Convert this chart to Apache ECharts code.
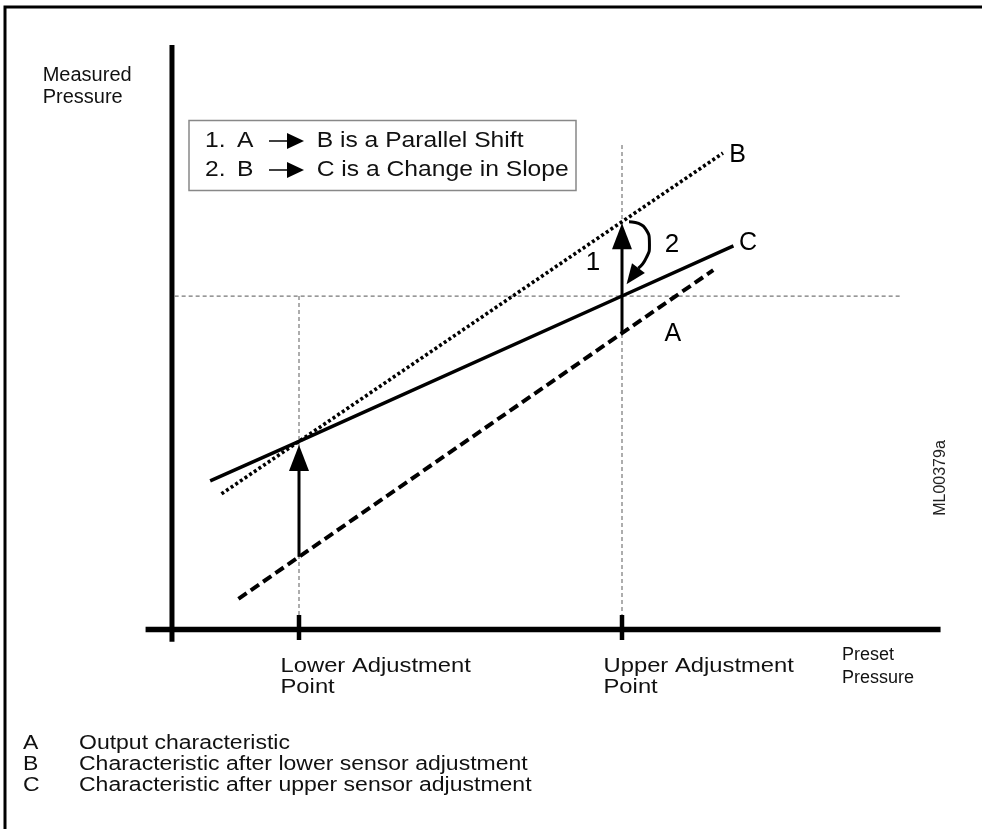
<!DOCTYPE html>
<html><head><meta charset="utf-8">
<script src="https://cdn.jsdelivr.net/npm/echarts@6/dist/echarts.min.js"></script>
<style>html,body{margin:0;padding:0;background:#fff}#c{width:982px;height:829px}</style>
</head><body><div id="c"></div>
<script>
const FONT = '"Liberation Sans", Arial, Helvetica, sans-serif';

// Preset pressure (x) positions of the two adjustment points
const adjustPoints = [20, 60];
const tickLabels = ['Lower Adjustment\nPoint', 'Upper Adjustment\nPoint'];
const xAxisTitle = 'Preset\nPressure';
const yAxisTitle = 'Measured\nPressure';

// Characteristic lines [preset, measured]
const lineA = [[12.5, 3.8], [20, 9.0], [60, 36.7], [71.3, 44.5]];
const lineB = [[10.4, 16.8], [20, 23.3], [60, 50.5], [72.5, 59.0]];
const lineC = [[9.0, 18.4], [20, 23.3], [60, 41.3], [73.8, 47.5]];
const lineNames = ['A', 'B', 'C'];
const lineLabelPos = [[66.3, 36.6], [74.3, 58.7], [75.6, 47.9]];

// Axis frame (drawn in data space)
const yAxisLine = [[4.27, -1.5], [4.27, 72.4]];
const xAxisLine = [[1.0, 0], [99.45, 0]];
const tickSpan = [1.8, -1.3];

// Reference guides
const refLevel = 41.3;
const guideH = [[4.6, refLevel], [94.7, refLevel]];
const guideLowTop = refLevel;
const guideUpTop = 60.0;
const guideBottom = 1.8;

// Adjustment arrows
const shiftLower = [[20, 9.0], [20, 22.85]];
const shiftUpper = [[60, 36.7], [60, 50.3]];
const slopeCurve = [[60.87, 50.5], [62.85, 49.72], [63.4, 47.62], [63.0, 46.01], [62.02, 44.73]];
const slopeHead = [61.3, 43.76];
const stepLabels = ['1', '2'];
const stepLabelPos = [[56.4, 45.4], [66.2, 47.6]];

const legendRows = [
  ['1.', 'A', 'B is a Parallel Shift'],
  ['2.', 'B', 'C is a Change in Slope']
];
const keyRows = [
  ['A', 'Output characteristic'],
  ['B', 'Characteristic after lower sensor adjustment'],
  ['C', 'Characteristic after upper sensor adjustment']
];
const drawingId = 'ML00379a';

const chart = echarts.init(document.getElementById('c'), null, {renderer: 'canvas'});

function seg(data, lw, type, color, smooth) {
  return {
    type: 'line', data: data, symbol: 'none', clip: false, silent: true,
    smooth: smooth || false, animation: false,
    lineStyle: {width: lw, type: type || 'solid', color: color || '#000', cap: 'butt', opacity: 1},
    z: 3
  };
}
function labelSeries(points, names, size) {
  return {
    type: 'scatter', symbolSize: 1, silent: true, animation: false, clip: false,
    itemStyle: {color: 'rgba(0,0,0,0)', opacity: 1},
    data: points.map((p, i) => ({value: p, name: names[i]})),
    label: {
      show: true, formatter: '{b}', position: 'inside',
      fontFamily: FONT, fontSize: size, color: '#000', opacity: 1,
      align: 'center', verticalAlign: 'middle'
    },
    z: 5
  };
}

const series = [];
// axes
series.push(seg(yAxisLine, 5));
series.push(seg(xAxisLine, 5.5));
adjustPoints.forEach(x => series.push(seg([[x, tickSpan[0]], [x, tickSpan[1]]], 4.5)));
// guides
const gStyle = [4, 3];
series.push(seg(guideH, 1.2, gStyle, '#777'));
series.push(seg([[adjustPoints[0], guideLowTop], [adjustPoints[0], guideBottom]], 1.2, gStyle, '#777'));
series.push(seg([[adjustPoints[1], guideUpTop], [adjustPoints[1], guideBottom]], 1.2, gStyle, '#777'));
// characteristics
series.push(seg(lineA, 4, [10, 5]));
series.push(seg(lineB, 3.6, [3, 2.6]));
series.push(seg(lineC, 3.5));
// shift arrows
series.push(seg([shiftLower[0], [shiftLower[1][0], shiftLower[1][1] - 1.5]], 3));
series.push(seg([shiftUpper[0], [shiftUpper[1][0], shiftUpper[1][1] - 1.5]], 3));
series.push({
  type: 'scatter', silent: true, animation: false, clip: false,
  symbol: 'triangle', symbolSize: [20, 26], symbolOffset: [0, 13],
  itemStyle: {color: '#000', opacity: 1}, data: [shiftLower[1], shiftUpper[1]], z: 6
});
// slope-change curved arrow
series.push(seg(slopeCurve, 3, 'solid', '#000', 0.6));
series.push({
  type: 'scatter', silent: true, animation: false, clip: false,
  symbol: 'triangle', symbolSize: [16, 20], symbolRotate: 143.5,
  itemStyle: {color: '#000', opacity: 1}, data: [slopeHead], z: 6
});
// labels on the lines / arrows
series.push(labelSeries(lineLabelPos, lineNames, 25));
series.push(labelSeries(stepLabelPos, stepLabels, 26));

const T = (x, y, text, size, opts) => Object.assign({
  type: 'text', x: x, y: y, silent: true, z: 10,
  style: {text: text, font: size + 'px ' + FONT, fill: '#111', textAlign: 'left', textVerticalAlign: 'middle'}
}, opts || {});

function buildGraphic() {
  const g = [
    {type: 'polyline', silent: true, z: 1, shape: {points: [[5, 829], [5, 7], [982, 7]]},
     style: {stroke: '#000', lineWidth: 3, fill: null}},
    T(42.7, 75, yAxisTitle.split('\n')[0], 20),
    T(42.7, 97, yAxisTitle.split('\n')[1], 20),
    T(842, 655, xAxisTitle.split('\n')[0], 18),
    T(842, 678, xAxisTitle.split('\n')[1], 18),
    {type: 'rect', silent: true, z: 1, shape: {x: 189, y: 120.5, width: 387, height: 70},
     style: {stroke: '#888', lineWidth: 1.5, fill: '#fff'}},
    {type: 'text', x: 941, y: 478, rotation: Math.PI / 2, silent: true, z: 10,
     style: {text: drawingId, font: '16px ' + FONT, fill: '#222', textAlign: 'center', textVerticalAlign: 'middle'}}
  ];
  // tick labels placed through the axis scale
  adjustPoints.forEach((x, i) => {
    const p = chart.convertToPixel({gridIndex: 0}, [x, 0]);
    const lines = tickLabels[i].split('\n');
    lines.forEach((t, j) => g.push(T(p[0] - 18.5, p[1] + 37 + j * 21, t, 19.5, {scaleX: 1.22})));
  });
  const rowY = [141, 170];
  legendRows.forEach((r, i) => {
    const y = rowY[i];
    g.push(T(205, y, r[0], 22, {scaleX: 1.12}));
    g.push(T(237, y, r[1], 22, {scaleX: 1.12}));
    g.push({type: 'line', silent: true, z: 10, shape: {x1: 269, y1: y, x2: 292, y2: y}, style: {stroke: '#000', lineWidth: 1.5}});
    g.push({type: 'polygon', silent: true, z: 10, shape: {points: [[287, y - 8], [304, y], [287, y + 8]]}, style: {fill: '#000'}});
    g.push(T(316.7, y, r[2], 22, {scaleX: 1.12}));
  });
  const keyY = [743, 764, 785];
  keyRows.forEach((r, i) => {
    g.push(T(23, keyY[i], r[0], 20, {scaleX: 1.15}));
    g.push(T(79, keyY[i], r[1], 20, {scaleX: 1.15}));
  });
  return g;
}

chart.setOption({
  animation: false,
  backgroundColor: '#fff',
  grid: {left: 137.5, top: 23.9, width: 807.5, height: 646},
  xAxis: {type: 'value', min: 0, max: 100, show: false},
  yAxis: {type: 'value', min: -5, max: 75, show: false},
  series: series
});
chart.setOption({graphic: buildGraphic()});
</script>
</body></html>
